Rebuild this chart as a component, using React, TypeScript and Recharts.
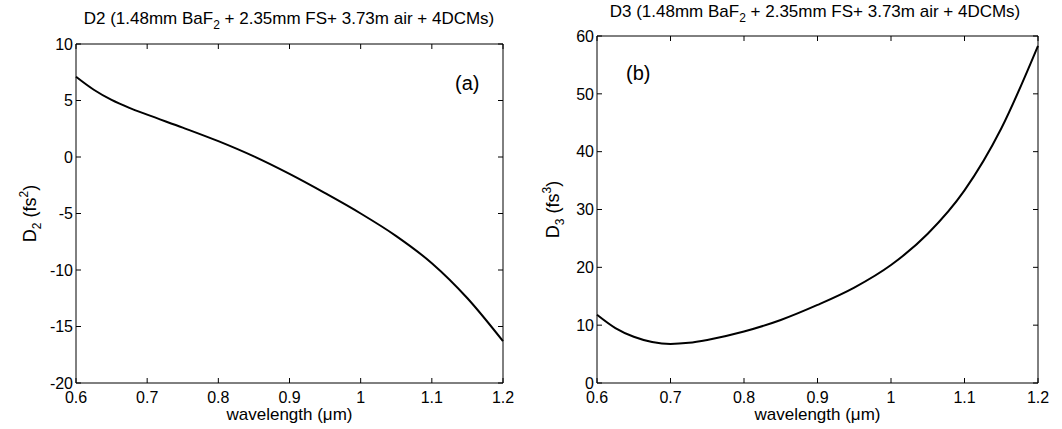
import React from "react";
import { LineChart, Line, XAxis, YAxis, ReferenceArea } from "recharts";

// (a) group-delay dispersion D2
const d2Wavelength = [0.6, 0.625, 0.65, 0.675, 0.7, 0.75, 0.8, 0.85, 0.9, 0.95, 1.0, 1.05, 1.1, 1.15, 1.2];
const d2Values = [7.1, 5.95, 5.05, 4.35, 3.75, 2.6, 1.4, 0.05, -1.5, -3.2, -5.0, -7.0, -9.4, -12.5, -16.3];

// (b) third-order dispersion D3
const d3Wavelength = [0.6, 0.625, 0.65, 0.675, 0.7, 0.725, 0.75, 0.8, 0.85, 0.9, 0.95, 1.0, 1.05, 1.1, 1.15, 1.2];
const d3Values = [11.8, 9.5, 8.0, 7.1, 6.75, 6.95, 7.45, 8.9, 10.9, 13.5, 16.5, 20.4, 25.8, 33.3, 44.0, 58.3];

const xTicks = [0.6, 0.7, 0.8, 0.9, 1, 1.1, 1.2];
const d2Ticks = [-20, -15, -10, -5, 0, 5, 10];
const d3Ticks = [0, 10, 20, 30, 40, 50, 60];

const FONT = "'Liberation Sans', Arial, Helvetica, sans-serif";

const d2Data = d2Wavelength.map((w, i) => ({ w, v: d2Values[i] }));
const d3Data = d3Wavelength.map((w, i) => ({ w, v: d3Values[i] }));

const CW = 531;
const CH = 429;

function makeXTick(plotTop: number) {
  return (props: any) => {
    const { x, y, payload } = props;
    const axisY = y - 8;
    return (
      <g>
        <line x1={x} x2={x} y1={axisY} y2={axisY - 5} stroke="#000" />
        <line x1={x} x2={x} y1={plotTop} y2={plotTop + 5} stroke="#000" />
        <text x={x} y={y} dy="0.75em" textAnchor="middle" fontSize={16} fontFamily={FONT} fill="#000">
          {payload.value}
        </text>
      </g>
    );
  };
}

function makeYTick(plotRight: number) {
  return (props: any) => {
    const { x, y, payload } = props;
    const axisX = x + 3;
    return (
      <g>
        <line x1={axisX} x2={axisX + 5} y1={y} y2={y} stroke="#000" />
        <line x1={plotRight} x2={plotRight - 5} y1={y} y2={y} stroke="#000" />
        <text x={x} y={y} dy="0.36em" textAnchor="end" fontSize={16} fontFamily={FONT} fill="#000">
          {payload.value}
        </text>
      </g>
    );
  };
}

function makeYLabel(cx: number, n: string) {
  return (props: any) => {
    const vb = props.viewBox;
    const cy = vb.y + vb.height / 2;
    return (
      <text
        x={cx}
        y={cy}
        transform={`rotate(-90, ${cx}, ${cy})`}
        dy={6}
        textAnchor="middle"
        fontSize={18}
        fontFamily={FONT}
        fill="#000"
      >
        D<tspan dy={5} fontSize={12}>{n}</tspan>
        <tspan dy={-5}> (fs</tspan>
        <tspan dy={-8} fontSize={12}>{n}</tspan>
        <tspan dy={8}>)</tspan>
      </text>
    );
  };
}

interface PanelProps {
  data: { w: number; v: number }[];
  yDomain: [number, number];
  yTicks: number[];
  margin: { top: number; right: number; bottom: number; left: number };
  labelX: number;
  n: string;
}

function Panel({ data, yDomain, yTicks, margin, labelX, n }: PanelProps) {
  return (
    <LineChart width={CW} height={CH} data={data} margin={margin}>
      <XAxis
        dataKey="w"
        type="number"
        domain={[0.6, 1.2]}
        ticks={xTicks}
        axisLine={false}
        tickLine={false}
        tickSize={0}
        tickMargin={8}
        height={40}
        interval={0}
        tick={makeXTick(margin.top)}
        label={{
          value: "wavelength (\u03bcm)",
          position: "insideBottom",
          offset: 3,
          fontSize: 17,
          fontFamily: FONT,
          fill: "#000",
        }}
      />
      <YAxis
        type="number"
        domain={yDomain}
        ticks={yTicks}
        axisLine={false}
        tickLine={false}
        tickSize={0}
        tickMargin={3}
        width={60}
        interval={0}
        tick={makeYTick(CW - margin.right)}
        label={{ content: makeYLabel(labelX, n) }}
      />
      <ReferenceArea
        x1={0.6}
        x2={1.2}
        y1={yDomain[0]}
        y2={yDomain[1]}
        fill="none"
        fillOpacity={0}
        stroke="#000"
        strokeWidth={1}
      />
      <Line
        type="monotone"
        dataKey="v"
        stroke="#000"
        strokeWidth={2}
        dot={false}
        isAnimationActive={false}
      />
    </LineChart>
  );
}

const titleStyle: React.CSSProperties = {
  position: "absolute",
  fontFamily: FONT,
  fontSize: 17,
  lineHeight: "20px",
  whiteSpace: "nowrap",
  transform: "translateX(-50%)",
  color: "#000",
};

const subStyle: React.CSSProperties = { fontSize: 12, verticalAlign: "-5px", lineHeight: 0 };

export default function App() {
  return (
    <div style={{ position: "fixed", left: 0, top: 0, width: 1062, height: 429, background: "#fff" }}>
      <div style={{ position: "absolute", left: 0, top: 0 }}>
        <Panel
          data={d2Data}
          yDomain={[-20, 10]}
          yTicks={d2Ticks}
          margin={{ top: 44, right: 28, bottom: 6, left: 16 }}
          labelX={30}
          n="2"
        />
      </div>
      <div style={{ position: "absolute", left: 531, top: 0 }}>
        <Panel
          data={d3Data}
          yDomain={[0, 60]}
          yTicks={d3Ticks}
          margin={{ top: 36, right: 24, bottom: 6, left: 6 }}
          labelX={22}
          n="3"
        />
      </div>
      <div style={{ ...titleStyle, left: 289, top: 9 }}>
        D2 (1.48mm BaF<span style={subStyle}>2</span> + 2.35mm FS+ 3.73m air + 4DCMs)
      </div>
      <div style={{ ...titleStyle, left: 815, top: 2 }}>
        D3 (1.48mm BaF<span style={subStyle}>2</span> + 2.35mm FS+ 3.73m air + 4DCMs)
      </div>
      <div style={{ position: "absolute", left: 455, top: 72, fontFamily: FONT, fontSize: 20 }}>(a)</div>
      <div style={{ position: "absolute", left: 626, top: 62, fontFamily: FONT, fontSize: 20 }}>(b)</div>
    </div>
  );
}
